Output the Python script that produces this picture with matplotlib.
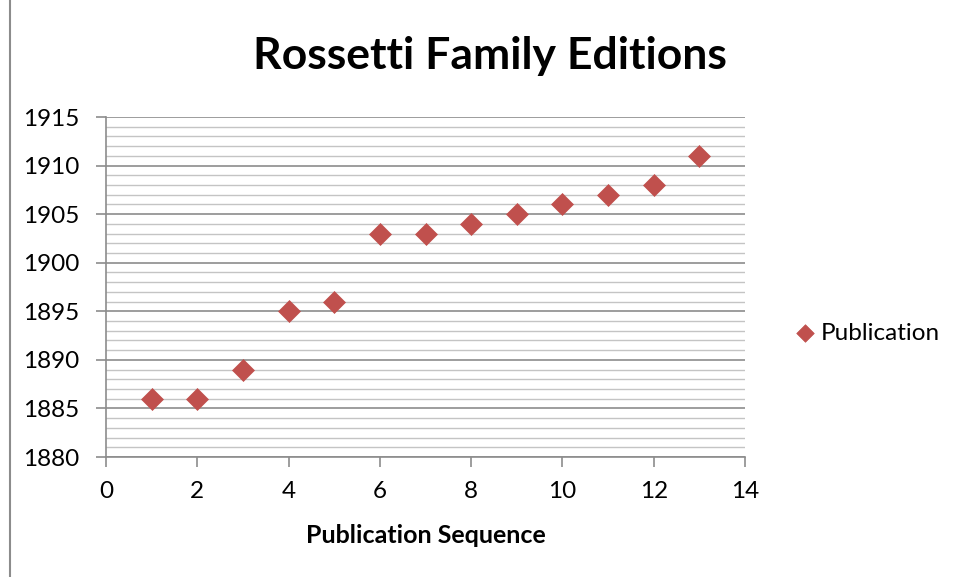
import matplotlib
matplotlib.use("Agg")
import matplotlib.pyplot as plt
from matplotlib.lines import Line2D
from matplotlib.ticker import MultipleLocator

plt.rcParams['font.family'] = ['Lato', 'DejaVu Sans']

# data
sequence = [1, 2, 3, 4, 5, 6, 7, 8, 9, 10, 11, 12, 13]
year = [1886, 1886, 1889, 1895, 1896, 1903, 1903, 1904, 1905, 1906, 1907, 1908, 1911]
x_ticks = [0, 2, 4, 6, 8, 10, 12, 14]
y_ticks = [1880, 1885, 1890, 1895, 1900, 1905, 1910, 1915]

W, H = 958, 577
fig = plt.figure(figsize=(W / 100, H / 100), dpi=100)
ax = fig.add_axes([106 / W, 1 - 457 / H, (745 - 106) / W, (457 - 117) / H])

ax.scatter(sequence, year, marker='D', s=125, color='#C0504D', edgecolors='#C0504D',
           linewidths=0.5, zorder=3, label='Publication')

ax.set_xlim(0, 14)
ax.set_ylim(1880, 1915)
ax.set_xticks(x_ticks)
ax.set_yticks(y_ticks)
ax.yaxis.set_minor_locator(MultipleLocator(1))
ax.grid(which='major', axis='y', color='#8c8c8c', linewidth=1.2)
ax.grid(which='minor', axis='y', color='#c4c4c4', linewidth=1.0)
ax.set_axisbelow(True)

for s in ['top', 'right']:
    ax.spines[s].set_visible(False)
for s in ['left', 'bottom']:
    ax.spines[s].set_color('#8c8c8c')
    ax.spines[s].set_linewidth(1.2)
ax.tick_params(axis='both', which='major', direction='out', length=7, width=1.2,
               color='#8c8c8c', labelsize=17.5)
ax.tick_params(axis='x', pad=10)
ax.tick_params(axis='y', pad=12)
ax.tick_params(axis='y', which='minor', length=0)

ax.set_xlabel('Publication Sequence', fontsize=18, fontweight='bold', labelpad=16)
fig.text(490 / W, 1 - 56 / H, 'Rossetti Family Editions', fontsize=32, fontweight='bold',
         ha='center', va='center')

ax.legend(loc='center left', bbox_to_anchor=(793 / W, 1 - 333 / H), bbox_transform=fig.transFigure,
          frameon=False, fontsize=17.5, handlelength=1.0, handletextpad=0.15,
          markerscale=0.8, borderaxespad=0, borderpad=0)

# outer chart border (left edge visible)
fig.add_artist(Line2D([10 / W, 10 / W], [0, 1], transform=fig.transFigure, color='#8c8c8c', linewidth=1.5))

fig.savefig('out.png', dpi=100)
